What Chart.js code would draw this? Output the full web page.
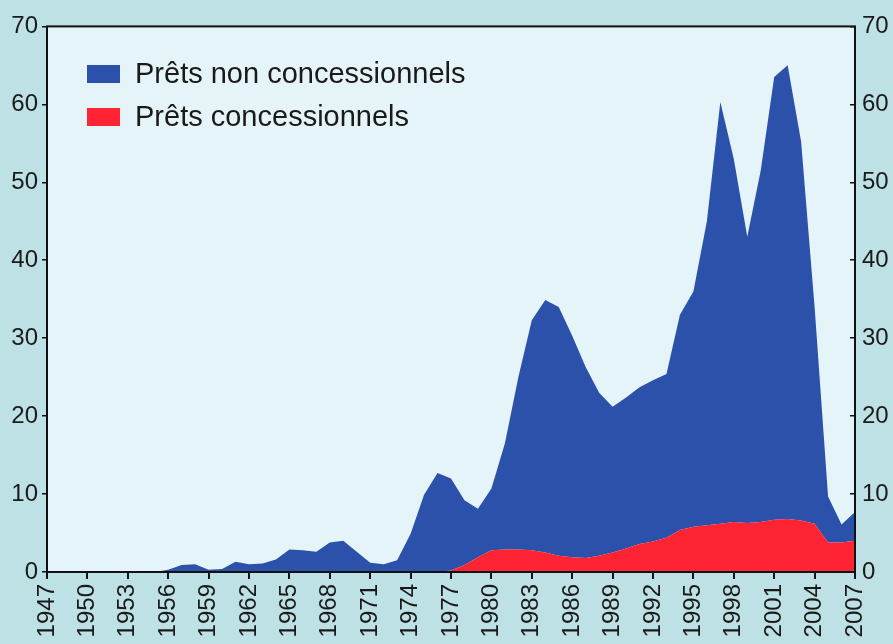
<!DOCTYPE html>
<html>
<head>
<meta charset="utf-8">
<script src="https://cdn.jsdelivr.net/npm/chart.js@4.4.0/dist/chart.umd.min.js"></script>
<style>
  html, body { margin: 0; padding: 0; background: #bde1e4; }
  canvas { display: block; }
</style>
</head>
<body>
<canvas id="myChart" width="893" height="644"></canvas>
<script>
const years = ['1947','1948','1949','1950','1951','1952','1953','1954','1955','1956',
  '1957','1958','1959','1960','1961','1962','1963','1964','1965','1966',
  '1967','1968','1969','1970','1971','1972','1973','1974','1975','1976',
  '1977','1978','1979','1980','1981','1982','1983','1984','1985','1986',
  '1987','1988','1989','1990','1991','1992','1993','1994','1995','1996',
  '1997','1998','1999','2000','2001','2002','2003','2004','2005','2006','2007'];

const tickYears = ['1947','1950','1953','1956','1959','1962','1965','1968','1971','1974',
  '1977','1980','1983','1986','1989','1992','1995','1998','2001','2004','2007'];

// Prêts concessionnels (bottom layer)
const concessional = [0,0,0,0,0,0,0,0,0,0,
  0,0,0,0,0,0,0,0,0,0,
  0,0,0,0,0,0,0,0,0,0,
  0.2,0.9,1.9,2.8,2.9,2.9,2.8,2.5,2.1,1.9,
  1.8,2.1,2.5,3.0,3.6,3.9,4.4,5.4,5.8,6.0,
  6.2,6.4,6.3,6.4,6.7,6.8,6.6,6.2,3.8,3.8,4.0];

// Prêts non concessionnels (stacked on top)
const nonConcessional = [0,0,0,0,0,0,0,0,0,0.3,
  0.9,1.0,0.3,0.4,1.3,1.0,1.1,1.6,2.9,2.8,
  2.6,3.8,4.0,2.6,1.2,1.0,1.5,4.9,9.9,12.7,
  11.8,8.3,6.2,7.9,13.6,22.1,29.5,32.4,31.9,28.4,
  24.5,20.9,18.7,19.4,20.1,20.7,21.0,27.6,30.2,39.0,
  54.1,46.6,36.7,45.1,56.8,58.2,48.6,27.8,5.9,2.3,3.7];

const blue = '#2b51ab';
const red = '#ff2433';
const fontFamily = "'Liberation Sans Narrow', 'Arial Narrow', 'Liberation Sans', Arial, sans-serif";

const backgroundPlugin = {
  id: 'bg',
  beforeDraw(chart) {
    const { ctx, chartArea } = chart;
    ctx.save();
    ctx.fillStyle = '#bde1e4';
    ctx.fillRect(0, 0, chart.width, chart.height);
    ctx.fillStyle = '#e5f4f8';
    ctx.fillRect(chartArea.left, chartArea.top, chartArea.right - chartArea.left, chartArea.bottom - chartArea.top);
    ctx.restore();
  },
  afterDraw(chart) {
    const { ctx, chartArea } = chart;
    ctx.save();
    ctx.strokeStyle = '#111';
    ctx.lineWidth = 2;
    ctx.strokeRect(chartArea.left, chartArea.top, chartArea.right - chartArea.left, chartArea.bottom - chartArea.top);

    // legend, blue entry first
    const items = [chart.data.datasets[1], chart.data.datasets[0]];
    ctx.font = '29px ' + fontFamily;
    ctx.textBaseline = 'middle';
    items.forEach((ds, i) => {
      const y = 74 + i * 43;
      ctx.fillStyle = ds.backgroundColor;
      ctx.fillRect(87, y - 9, 33, 18);
      ctx.fillStyle = '#1a1a1a';
      ctx.fillText(ds.label, 135, y + 1);
    });
    ctx.restore();
  }
};

new Chart(document.getElementById('myChart'), {
  type: 'line',
  data: {
    labels: years,
    datasets: [
      {
        label: 'Prêts concessionnels',
        data: concessional,
        backgroundColor: red,
        borderWidth: 0,
        pointRadius: 0,
        fill: 'origin',
        tension: 0,
        yAxisID: 'y'
      },
      {
        label: 'Prêts non concessionnels',
        data: nonConcessional,
        backgroundColor: blue,
        borderWidth: 0,
        pointRadius: 0,
        fill: '-1',
        tension: 0,
        yAxisID: 'y'
      }
    ]
  },
  options: {
    responsive: false,
    animation: false,
    devicePixelRatio: 1,
    layout: { padding: { top: 24, left: 0, right: 0, bottom: 0 } },
    plugins: {
      legend: { display: false },
      tooltip: { enabled: false }
    },
    scales: {
      x: {
        type: 'category',
        offset: false,
        afterFit: (scale) => { scale.height = 72; },
        border: { display: false },
        grid: {
          drawOnChartArea: false,
          tickLength: 7,
          lineWidth: 2,
          tickColor: (c) => tickYears.includes(years[c.index]) ? '#111' : 'rgba(0,0,0,0)'
        },
        ticks: {
          autoSkip: false,
          minRotation: 90,
          maxRotation: 90,
          padding: 5,
          color: '#1a1a1a',
          font: { family: fontFamily, size: 24 },
          callback: (val, i) => tickYears.includes(years[i]) ? years[i] : ''
        }
      },
      y: {
        position: 'left',
        stacked: true,
        min: 0,
        max: 70,
        afterFit: (scale) => { scale.width = 47; },
        border: { display: false },
        grid: { drawOnChartArea: false, tickLength: 5, lineWidth: 1.5, tickColor: '#111' },
        ticks: {
          stepSize: 10,
          padding: 4,
          color: '#1a1a1a',
          font: { family: fontFamily, size: 24 }
        }
      },
      y2: {
        position: 'right',
        min: 0,
        max: 70,
        z: 1,
        afterFit: (scale) => { scale.width = 38; },
        border: { display: false },
        grid: { drawOnChartArea: false, tickLength: -5, lineWidth: 1.5, tickColor: '#111' },
        ticks: {
          stepSize: 10,
          padding: 12,
          color: '#1a1a1a',
          font: { family: fontFamily, size: 24 }
        }
      }
    }
  },
  plugins: [backgroundPlugin]
});
</script>
</body>
</html>
